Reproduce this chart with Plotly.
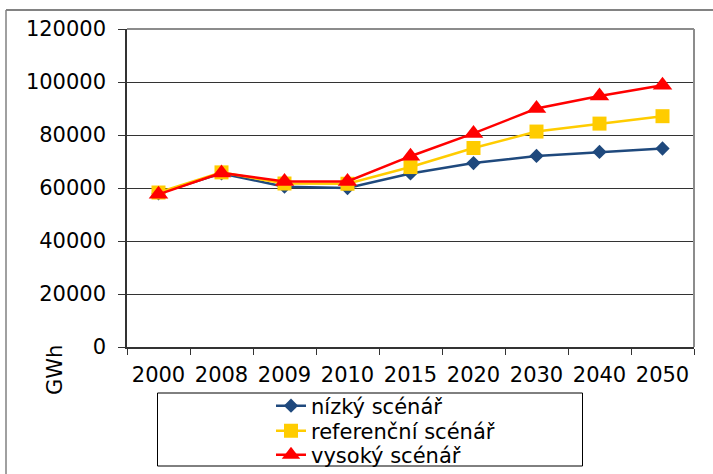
import plotly.graph_objects as go

years = ["2000", "2008", "2009", "2010", "2015", "2020", "2030", "2040", "2050"]
nizky = [58000, 65500, 60500, 60000, 65500, 69400, 72100, 73600, 74900]
referencni = [58300, 65900, 61700, 61600, 67900, 75100, 81300, 84300, 87100]
vysoky = [57600, 65700, 62500, 62500, 72000, 80600, 90000, 94700, 98800]

names = ["nízký scénář", "referenční scénář", "vysoký scénář"]
colors = ["#1F497D", "#FFCC00", "#FF0000"]
symbols = ["diamond", "square", "triangle-up"]
sizes = [11, 14, 17]
y_ticks = [0, 20000, 40000, 60000, 80000, 100000, 120000]

FONT = "DejaVu Sans"
W, H = 713, 474
L, R, T, B = 127, 694, 29, 347  # plot area in pixels


def px(x):
    return (x - L) / (R - L)


def py(y):
    return (B - y) / (B - T)


legend_ids = ["legend", "legend2", "legend3"]
legend_rows = [406, 431, 455]

fig = go.Figure()
for vals, nm, c, s, sz, lid in zip([nizky, referencni, vysoky], names, colors, symbols, sizes, legend_ids):
    fig.add_trace(go.Scatter(
        x=years, y=vals, name=nm, mode="lines+markers",
        line=dict(color=c, width=2.5),
        marker=dict(symbol=s, size=sz, color=c, line=dict(width=0)),
        legend=lid,
    ))

shapes = [
    # outer frame
    dict(type="line", xref="paper", yref="paper", x0=px(6), x1=px(713), y0=py(10), y1=py(10),
         line=dict(color="#595959", width=1.5)),
    dict(type="line", xref="paper", yref="paper", x0=px(6), x1=px(6), y0=py(10), y1=py(474),
         line=dict(color="#808080", width=1.5)),
    # plot area top/right border
    dict(type="line", xref="paper", yref="paper", x0=0, x1=1, y0=1, y1=1,
         line=dict(color="#8c8c8c", width=2)),
    dict(type="line", xref="paper", yref="paper", x0=1, x1=1, y0=0, y1=1,
         line=dict(color="#8c8c8c", width=2)),
    # legend box
    dict(type="rect", xref="paper", yref="paper", x0=px(157.5), x1=px(582.5), y0=py(393), y1=py(466),
         line=dict(color="#000000", width=1), fillcolor="rgba(0,0,0,0)"),
]

legend_common = dict(
    xanchor="left", yanchor="middle",
    bgcolor="rgba(0,0,0,0)", borderwidth=0,
    font=dict(family=FONT, size=21, color="black"),
)

fig.update_layout(
    width=W, height=H,
    margin=dict(l=L, r=W - R, t=T, b=H - B, pad=0, autoexpand=False),
    paper_bgcolor="white", plot_bgcolor="white",
    font=dict(family=FONT, size=21, color="black"),
    showlegend=True,
    legend=dict(x=px(271), y=py(legend_rows[0]), **legend_common),
    legend2=dict(x=px(271), y=py(legend_rows[1]), **legend_common),
    legend3=dict(x=px(271), y=py(legend_rows[2]), **legend_common),
    shapes=shapes,
    annotations=[dict(
        text="GWh", xref="paper", yref="paper", x=px(55), y=py(370),
        showarrow=False, textangle=-90, font=dict(family=FONT, size=21, color="black"),
        xanchor="center", yanchor="middle",
    )],
)

fig.update_xaxes(
    type="category", range=[-0.5, 8.5],
    showline=True, linecolor="#333333", linewidth=1.5,
    ticks="outside", ticklen=6, tickcolor="#333333", tickwidth=1,
    tickson="boundaries", showgrid=False, zeroline=False,
    ticklabelstandoff=8,
    tickfont=dict(family=FONT, size=21, color="black"),
)
fig.update_yaxes(
    range=[0, 120000], tickvals=y_ticks, tickformat="d",
    showline=True, linecolor="#333333", linewidth=1.5,
    ticks="outside", ticklen=7, tickcolor="#333333", tickwidth=1,
    showgrid=True, gridcolor="#333333", gridwidth=1, zeroline=False,
    ticklabelstandoff=8,
    tickfont=dict(family=FONT, size=21, color="black"),
)

fig.write_html(
    "out.html",
    config={"displayModeBar": False},
    post_script="document.body.style.margin='0';",
)
